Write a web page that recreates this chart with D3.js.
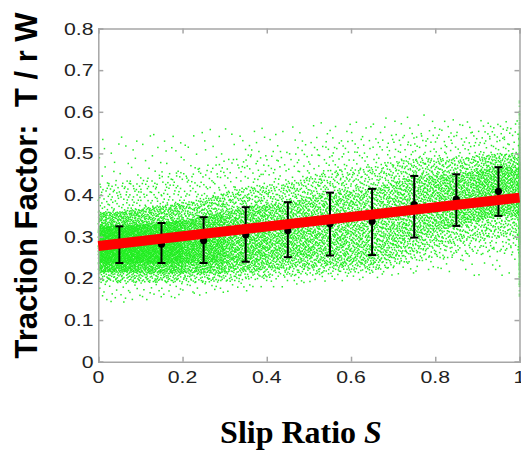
<!DOCTYPE html>
<html><head><meta charset="utf-8">
<script src="https://cdn.jsdelivr.net/npm/d3@7"></script>
<style>body{margin:0;background:#fff}svg{display:block}</style>
</head><body>
<script>
// ---- data ----
const xTicks = [0, 0.2, 0.4, 0.6, 0.8, 1];
const yTicks = [0, 0.1, 0.2, 0.3, 0.4, 0.5, 0.6, 0.7, 0.8];
const xTickLabels = ["0", "0.2", "0.4", "0.6", "0.8", "1"];
const yTickLabels = ["0", "0.1", "0.2", "0.3", "0.4", "0.5", "0.6", "0.7", "0.8"];

// binned means with +/- 1 sd error bars
const binSlip = [0.05, 0.15, 0.25, 0.35, 0.45, 0.55, 0.65, 0.75, 0.85, 0.95];
const binMean = [0.281, 0.282, 0.291, 0.305, 0.315, 0.331, 0.337, 0.377, 0.390, 0.409];
const binLow  = [0.237, 0.237, 0.237, 0.240, 0.251, 0.255, 0.256, 0.298, 0.326, 0.350];
const binHigh = [0.325, 0.333, 0.347, 0.371, 0.383, 0.406, 0.415, 0.446, 0.450, 0.467];

// linear fit (red line)
const fitSlip = [0, 1];
const fitTraction = [0.278, 0.394];

// raw-sample cloud, summarised per slip bin:
// quantile levels and the traction value at each level, plus approximate point counts
const cloudLevels = [0, 0.01, 0.05, 0.16, 0.5, 0.84, 0.95, 0.99, 1];
const cloudQuantiles = [
  [0.14, 0.190, 0.215, 0.237, 0.280, 0.325, 0.360, 0.430, 0.55],
  [0.15, 0.190, 0.212, 0.237, 0.281, 0.333, 0.375, 0.450, 0.55],
  [0.16, 0.190, 0.212, 0.237, 0.288, 0.347, 0.390, 0.470, 0.56],
  [0.17, 0.195, 0.215, 0.240, 0.302, 0.371, 0.420, 0.500, 0.56],
  [0.18, 0.205, 0.225, 0.251, 0.312, 0.383, 0.430, 0.510, 0.57],
  [0.19, 0.210, 0.228, 0.255, 0.325, 0.406, 0.460, 0.530, 0.58],
  [0.20, 0.215, 0.232, 0.256, 0.332, 0.415, 0.470, 0.540, 0.58],
  [0.21, 0.240, 0.262, 0.298, 0.372, 0.446, 0.490, 0.550, 0.60],
  [0.21, 0.250, 0.285, 0.326, 0.388, 0.450, 0.490, 0.550, 0.58],
  [0.20, 0.260, 0.300, 0.350, 0.408, 0.467, 0.500, 0.560, 0.58]
];
const cloudCounts = [2100, 1900, 1500, 1150, 1000, 950, 900, 950, 1000, 1150];
// samples saturated at slip = 1
const edgeQuantiles = [0.15, 0.18, 0.22, 0.28, 0.38, 0.48, 0.55, 0.60, 0.63];
const edgeCount = 320;

// ---- layout ----
const W = 521, H = 450;
const m = {left: 98.3, right: 519.5, top: 28.5, bottom: 361.7};
const svg = d3.select("body").append("svg").attr("width", W).attr("height", H);
const x = d3.scaleLinear().domain([0, 1]).range([m.left, m.right]);
const y = d3.scaleLinear().domain([0, 0.8]).range([m.bottom, m.top]);

// low-discrepancy placement of cloud samples inside the read quantile envelope
function halton(i, b) { let f = 1, r = 0; while (i > 0) { f /= b; r += f * (i % b); i = Math.floor(i / b); } return r; }
function invCdf(q, v) {
  for (let k = 1; k < cloudLevels.length; k++) {
    if (v <= cloudLevels[k]) {
      const t = (v - cloudLevels[k-1]) / (cloudLevels[k] - cloudLevels[k-1]);
      return q[k-1] + t * (q[k] - q[k-1]);
    }
  }
  return q[q.length - 1];
}
function quantAt(s) {
  const pos = s * 10 - 0.5;
  const i0 = Math.max(0, Math.min(9, Math.floor(pos)));
  const i1 = Math.min(9, i0 + 1);
  const t = Math.max(0, Math.min(1, pos - i0));
  return cloudQuantiles[i0].map((v, k) => v + t * (cloudQuantiles[i1][k] - v));
}
const cloud = [];
let idx = 1;
cloudCounts.forEach((n, b) => {
  for (let k = 0; k < n; k++, idx++) {
    const s = b * 0.1 + halton(idx, 2) * 0.1;
    cloud.push([s, invCdf(quantAt(s), halton(idx, 3))]);
  }
});
for (let k = 0; k < edgeCount; k++, idx++) cloud.push([1, invCdf(edgeQuantiles, halton(idx, 3))]);

const plot = svg.append("g");
plot.append("g").selectAll("rect").data(cloud).join("rect")
  .attr("x", d => x(d[0]) - 0.75).attr("y", d => y(d[1]) - 0.75)
  .attr("width", 1.5).attr("height", 1.5).attr("fill", "#22ee22");

// axes box (matlab-style, ticks inward on all four sides)
const axisColor = "#a6a6a6";
const bottomAx = d3.axisBottom(x).tickValues(xTicks).tickSize(-5).tickFormat("");
const topAx = d3.axisTop(x).tickValues(xTicks).tickSize(-5).tickFormat("");
const leftAx = d3.axisLeft(y).tickValues(yTicks).tickSize(-5).tickFormat("");
const rightAx = d3.axisRight(y).tickValues(yTicks).tickSize(-5).tickFormat("");
[[bottomAx, `translate(0,${m.bottom})`], [topAx, `translate(0,${m.top})`],
 [leftAx, `translate(${m.left},0)`], [rightAx, `translate(${m.right},0)`]].forEach(([ax, tr]) => {
  const g = svg.append("g").attr("transform", tr).call(ax);
  g.selectAll("path,line").attr("stroke", axisColor).attr("stroke-width", 1.5);
});

// error bars
const eb = svg.append("g");
binSlip.forEach((s, i) => {
  const cx = x(s);
  eb.append("line").attr("x1", cx).attr("x2", cx).attr("y1", y(binLow[i])).attr("y2", y(binHigh[i]))
    .attr("stroke", "#000").attr("stroke-width", 2);
  [binLow[i], binHigh[i]].forEach(v => eb.append("line").attr("x1", cx - 4).attr("x2", cx + 4)
    .attr("y1", y(v)).attr("y2", y(v)).attr("stroke", "#000").attr("stroke-width", 2));
  eb.append("circle").attr("cx", cx).attr("cy", y(binMean[i])).attr("r", 3.6).attr("fill", "#000");
});

// fit line
svg.append("path").datum(fitSlip.map((s, i) => [s, fitTraction[i]]))
  .attr("d", d3.line().x(d => x(d[0])).y(d => y(d[1])))
  .attr("stroke", "#ff0000").attr("stroke-width", 10).attr("fill", "none");

// tick labels
const tickFont = "'Liberation Sans', Arial, Helvetica, sans-serif";
svg.append("g").selectAll("text").data(xTicks).join("text")
  .attr("transform", d => `translate(${x(d)},382.5) scale(1.25,1)`)
  .attr("text-anchor", "middle").attr("font-family", tickFont).attr("font-size", 17).attr("fill", "#222")
  .text((d, i) => xTickLabels[i]);
svg.append("g").selectAll("text").data(yTicks).join("text")
  .attr("transform", d => `translate(93.5,${y(d) + 6}) scale(1.25,1)`)
  .attr("text-anchor", "end").attr("font-family", tickFont).attr("font-size", 17).attr("fill", "#222")
  .text((d, i) => yTickLabels[i]);

// axis titles
svg.append("text").attr("transform", "translate(37,185.5) rotate(-90)")
  .attr("text-anchor", "middle").attr("font-family", tickFont).attr("font-weight", "bold")
  .attr("font-size", 31).attr("fill", "#000").attr("xml:space", "preserve")
  .text("Traction Factor:  T / r W");
const xt = svg.append("text").attr("x", 301).attr("y", 443).attr("text-anchor", "middle")
  .attr("font-family", "'Liberation Serif', 'Times New Roman', serif").attr("font-weight", "bold")
  .attr("font-size", 32).attr("fill", "#000");
xt.append("tspan").text("Slip Ratio ");
xt.append("tspan").attr("font-style", "italic").text("S");
</script>
</body></html>
